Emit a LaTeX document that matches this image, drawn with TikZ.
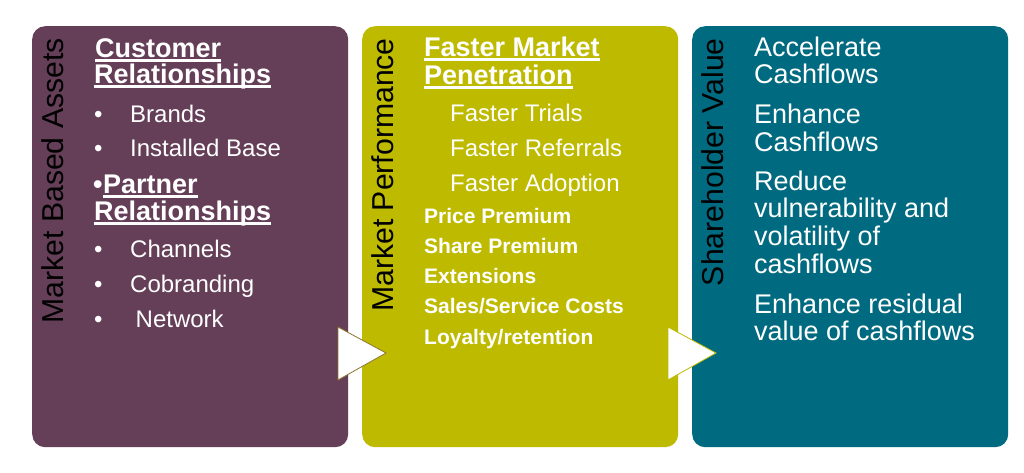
\documentclass[tikz,border=0pt]{standalone}
\usepackage{fontspec}
\setmainfont{Liberation Sans}
\definecolor{cpurple}{HTML}{653F58}
\definecolor{colive}{HTML}{BEBA00}
\definecolor{cteal}{HTML}{006A80}
\begin{document}
\begin{tikzpicture}[x=1pt,y=-1pt,
 box/.style={rectangle, rounded corners=13pt, draw=none, minimum width=316pt, minimum height=421pt, anchor=north west, inner sep=0pt},
 vlabel/.style={rotate=90, anchor=east, inner sep=0pt, text=black, font=\fontsize{30.2}{34}\selectfont},
 head/.style={anchor=base west, inner sep=0pt, text=white, font=\fontsize{27}{31}\selectfont\bfseries},
 item/.style={anchor=base west, inner sep=0pt, text=white, font=\fontsize{24}{28}\selectfont},
 bitem/.style={anchor=base west, inner sep=0pt, text=white, font=\fontsize{21}{25}\selectfont\bfseries},
 vitem/.style={anchor=base west, inner sep=0pt, text=white, font=\fontsize{27}{31}\selectfont},
 uline/.style={draw=white, line width=2.2pt},
 tri/.style={fill=white, line width=0.8pt, line join=miter}
]
\fill[white] (0,0) rectangle (1024,472);
\useasboundingbox (0,0) rectangle (1024,472);

% boxes
\node[box, fill=cpurple] (b1) at (32,26) {};
\node[box, fill=colive] (b2) at (362,26) {};
\node[box, fill=cteal] (b3) at (692,26) {};

% vertical labels
\node[vlabel] (v1) at (52.5,38) {Market Based Assets};
\node[vlabel] (v2) at (383,38) {Market Performance};
\node[vlabel] (v3) at (712.5,38) {Shareholder Value};

% column 1
\node[head] (h1) at (95,57) {Customer};
\node[head] (h2) at (94,83) {Relationships};
\draw[uline] ([yshift=-3.5pt]h1.base west) -- ([yshift=-3.5pt]h1.base east);
\draw[uline] ([yshift=-3.5pt]h2.base west) -- ([yshift=-3.5pt]h2.base east);
\node[item] (d1) at (94,122) {•};
\node[item] (i1) at (130,122) {Brands};
\node[item] (d2) at (94,156) {•};
\node[item] (i2) at (130,156) {Installed Base};
\node[head] (pb) at (93,193) {•};
\node[head] (h3) at (pb.base east) {Partner};
\node[head] (h4) at (94,220) {Relationships};
\draw[uline] ([yshift=-3.5pt]h3.base west) -- ([yshift=-3.5pt]h3.base east);
\draw[uline] ([yshift=-3.5pt]h4.base west) -- ([yshift=-3.5pt]h4.base east);
\node[item] (d3) at (94,257) {•};
\node[item] (i3) at (130,257) {Channels};
\node[item] (d4) at (94,292) {•};
\node[item] (i4) at (130,292) {Cobranding};
\node[item] (d5) at (94,327) {•};
\node[item] (i5) at (135.5,327) {Network};

% column 2
\node[head] (g1) at (424,56) {Faster Market};
\node[head] (g2) at (424,84) {Penetration};
\draw[uline] ([yshift=-3.5pt]g1.base west) -- ([yshift=-3.5pt]g1.base east);
\draw[uline] ([yshift=-3.5pt]g2.base west) -- ([yshift=-3.5pt]g2.base east);
\node[item] (f1) at (450,121) {Faster Trials};
\node[item] (f2) at (450,156) {Faster Referrals};
\node[item] (f3) at (450,191) {Faster Adoption};
\node[bitem] (p1) at (424,223) {Price Premium};
\node[bitem] (p2) at (424,253) {Share Premium};
\node[bitem] (p3) at (424,283) {Extensions};
\node[bitem] (p4) at (424,313.5) {Sales/Service Costs};
\node[bitem] (p5) at (424,344) {Loyalty/retention};

% column 3
\node[vitem] (s1) at (754,56) {Accelerate};
\node[vitem] (s2) at (754,83) {Cashflows};
\node[vitem] (s3) at (754,123) {Enhance};
\node[vitem] (s4) at (754,151) {Cashflows};
\node[vitem] (s5) at (754,190) {Reduce};
\node[vitem] (s6) at (754,217.5) {vulnerability and};
\node[vitem] (s7) at (754,245.5) {volatility of};
\node[vitem] (s8) at (754,273) {cashflows};
\node[vitem] (s9) at (754,313) {Enhance residual};
\node[vitem] (s10) at (754,340) {value of cashflows};

% arrows
\draw[tri, draw=colive!45!cpurple] (338,327) -- (386,353) -- (338,380) -- cycle;
\draw[tri, draw=colive] (668,327) -- (716,353) -- (668,380) -- cycle;
\end{tikzpicture}
\end{document}
